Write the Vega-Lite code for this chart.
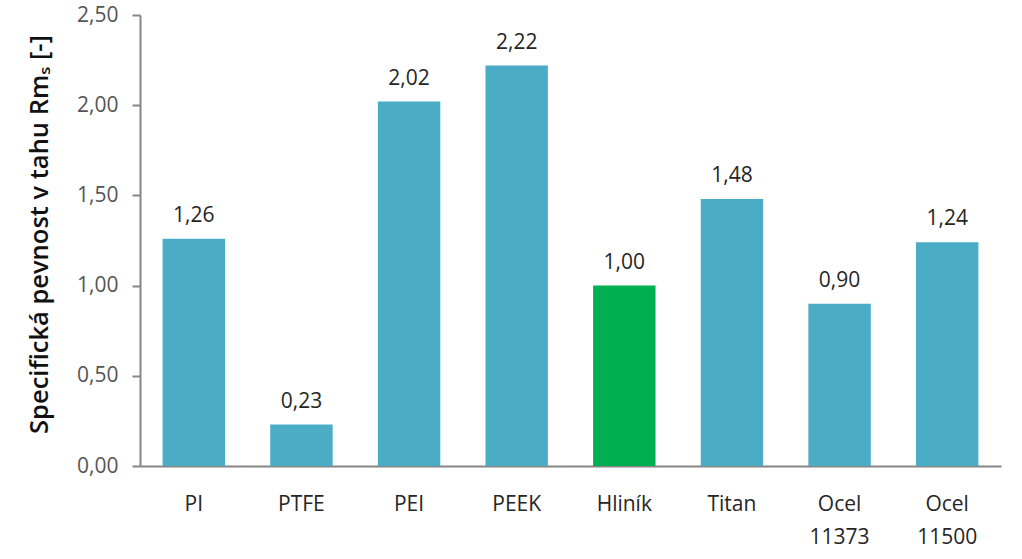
{
  "$schema": "https://vega.github.io/schema/vega-lite/v6.json",
  "width": 861,
  "height": 451,
  "autosize": "none",
  "padding": {"left": 140, "top": 15, "right": 21, "bottom": 93},
  "background": "white",
  "data": {"values": [
    {"name": "PI", "v": 1.26},
    {"name": "PTFE", "v": 0.23},
    {"name": "PEI", "v": 2.02},
    {"name": "PEEK", "v": 2.22},
    {"name": "Hliník", "v": 1.00},
    {"name": "Titan", "v": 1.48},
    {"name": "Ocel 11373", "v": 0.90},
    {"name": "Ocel 11500", "v": 1.24}
  ]},
  "encoding": {
    "x": {"field": "name", "type": "nominal", "sort": null,
      "scale": {"paddingInner": 0.42, "paddingOuter": 0.21},
      "axis": {"title": null, "labelAngle": 0, "ticks": false, "domainColor": "#868686", "domainWidth": 2,
        "labelExpr": "split(datum.label, ' ')", "labelPadding": 27, "labelFontSize": 21, "labelColor": "#262626",
        "labelLineHeight": 33, "labelFont": "Open Sans"}},
    "y": {"field": "v", "type": "quantitative",
      "scale": {"domain": [0, 2.5], "nice": false},
      "axis": {"values": [0, 0.5, 1, 1.5, 2, 2.5], "format": ".2f", "grid": false,
        "domainColor": "#868686", "domainWidth": 2, "tickColor": "#868686", "tickWidth": 2, "tickSize": 8,
        "labelColor": "#555555", "labelFontSize": 21, "labelFont": "Open Sans", "labelPadding": 14,
        "title": "Specifická pevnost v tahu Rmₛ [-]", "titleFont": "Open Sans", "titleFontSize": 25.5,
        "titleFontWeight": 600, "titleColor": "#111111", "titleX": -101, "titleY": 219, "titleAngle": -90,
        "titleAlign": "center", "titleBaseline": "middle"}}
  },
  "layer": [
    {"mark": {"type": "bar"},
     "encoding": {"color": {"condition": {"test": "datum.name === 'Hliník'", "value": "#00B050"}, "value": "#4BACC6"}}},
    {"mark": {"type": "text", "baseline": "alphabetic", "dy": -17, "fontSize": 21, "font": "Open Sans", "color": "#262626"},
     "encoding": {"text": {"field": "v", "type": "quantitative", "format": ".2f"}}}
  ],
  "config": {
    "view": {"stroke": null},
    "locale": {"number": {"decimal": ",", "thousands": " ", "grouping": [3], "currency": ["", " Kč"]}}
  }
}
